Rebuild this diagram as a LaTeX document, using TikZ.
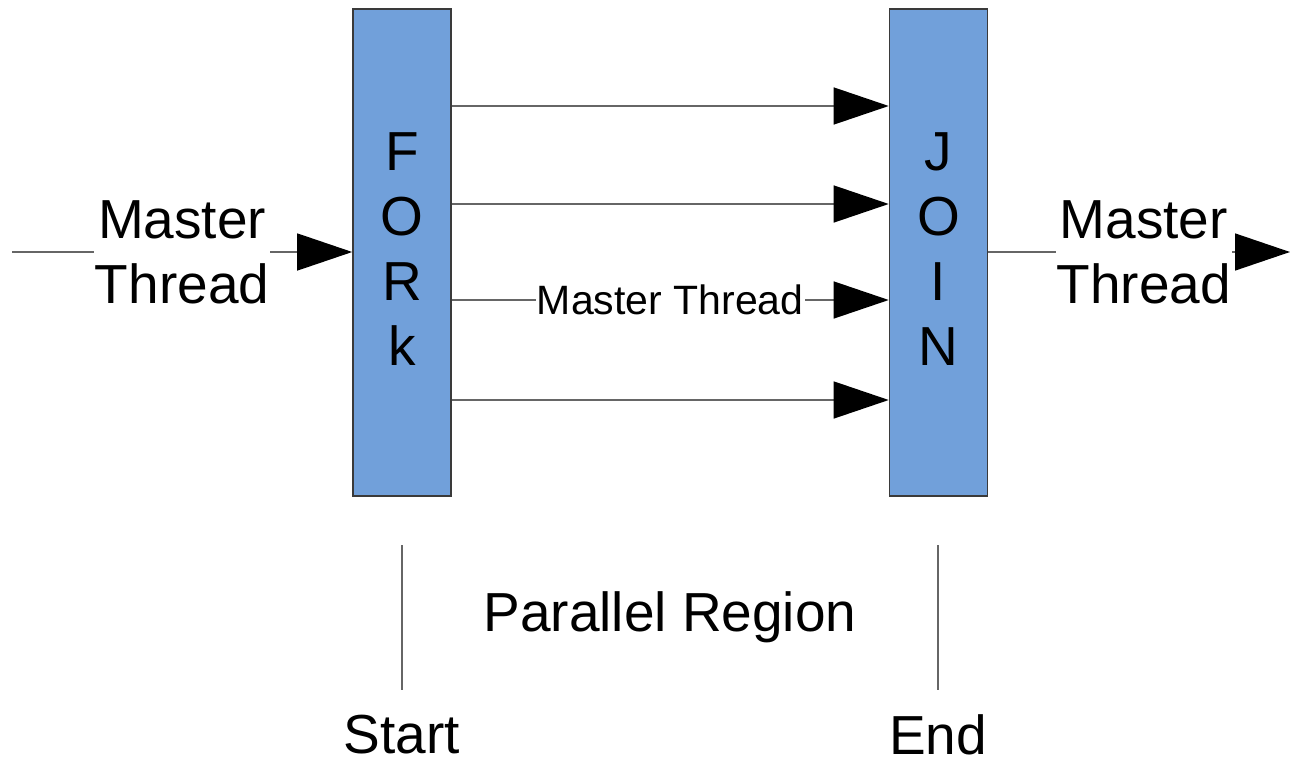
\documentclass[tikz,border=0pt]{standalone}
\usepackage{fontspec}
\setmainfont{Liberation Sans}
\usetikzlibrary{arrows.meta}
\definecolor{boxblue}{HTML}{71A0DA}
\definecolor{linegray}{HTML}{666666}
\definecolor{bordergray}{HTML}{3A3A3A}
\begin{document}
\begin{tikzpicture}[x=1pt,y=-1pt,
  bar/.style={draw=bordergray,line width=1.6pt,fill=boxblue,minimum width=98pt,minimum height=487pt,inner sep=0pt},
  big/.style={font=\fontsize{55}{65}\selectfont,align=center},
  small/.style={font=\fontsize{41}{48}\selectfont},
  conn/.style={draw=linegray,line width=1.4pt},
  arr/.style={conn,-{Triangle[length=55pt,width=37pt,fill=black,color=black]}},
  lab/.style={fill=white,inner sep=1pt},
]
\useasboundingbox (0,0) rectangle (1290,760);

\node[bar] (fork) at (402,252.5) {};
\node[bar] (join) at (938.5,252.5) {};

\node[big] (forktxt) at (402,249) {F\\O\\R\\k};
\node[big] (jointxt) at (938.5,249) {J\\O\\I\\N};

\coordinate (in) at (12,252);
\coordinate (out) at (1290,252);
\coordinate (y1) at (0,106);
\coordinate (y2) at (0,204);
\coordinate (y3) at (0,300);
\coordinate (y4) at (0,400);

\draw[arr] (in) -- node[big,lab,midway] (inlab) {Master\\Thread} (fork.west |- in);
\draw[arr] (join.east |- out) -- node[big,lab,pos=0.515] (outlab) {Master\\Thread} (out);

\draw[arr] (fork.east |- y1) -- (join.west |- y1);
\draw[arr] (fork.east |- y2) -- (join.west |- y2);
\draw[arr] (fork.east |- y3) -- node[small,lab,midway] (midlab) {Master Thread} (join.west |- y3);
\draw[arr] (fork.east |- y4) -- (join.west |- y4);

\coordinate (s1) at (402,545);
\coordinate (s2) at (402,690);
\coordinate (e1) at (938,545);
\coordinate (e2) at (938,690);
\draw[conn] (s1) -- (s2);
\draw[conn] (e1) -- (e2);

\node[big] (region) at (670,617) {Parallel Region};
\node[big,inner sep=0pt] (start) at (402,735) {Start};
\node[big,inner sep=0pt] (end) at (938,735) {End};
\end{tikzpicture}
\end{document}
